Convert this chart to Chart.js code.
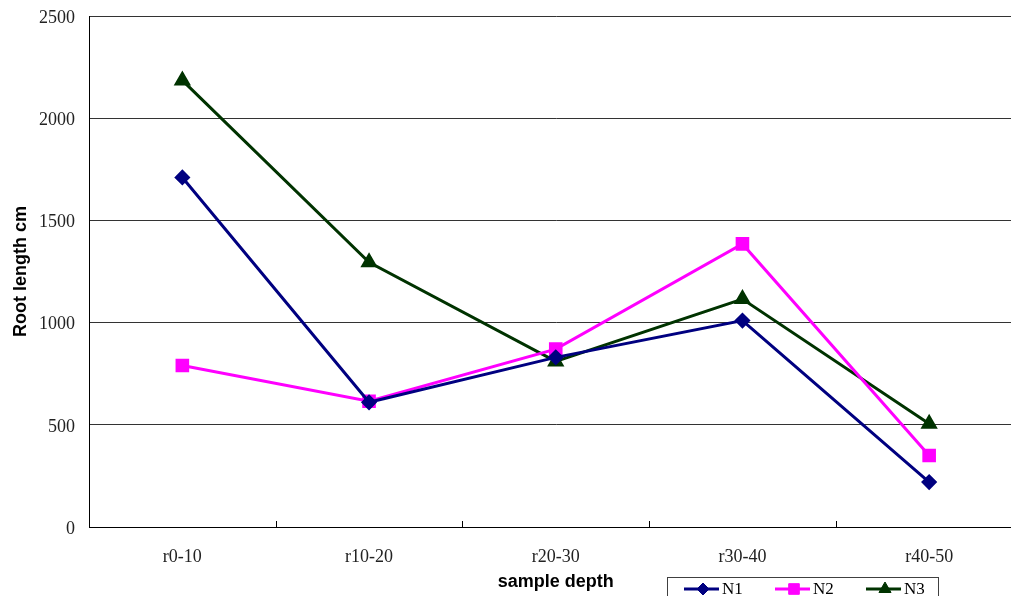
<!DOCTYPE html>
<html>
<head>
<meta charset="utf-8">
<script src="https://cdn.jsdelivr.net/npm/chart.js@4/dist/chart.umd.min.js"></script>
<style>
html, body { margin: 0; padding: 0; overflow: hidden; background: #fff; }
#wrap { width: 1033px; height: 596px; }
</style>
</head>
<body>
<div id="wrap"><canvas id="chart" width="1033" height="596"></canvas></div>
<script>
const depths = ["r0-10", "r10-20", "r20-30", "r30-40", "r40-50"];
const n1 = [1710, 610, 830, 1010, 220];
const n2 = [790, 615, 870, 1385, 350];
const n3 = [2185, 1295, 810, 1115, 505];
const yMax = 2500;
const yStep = 500;

const serif = "'Liberation Serif', 'DejaVu Serif', serif";
const sans = "'Liberation Sans', Arial, sans-serif";

// little upward ticks between the categories
const xTickMarks = {
    id: "xTickMarks",
    afterDraw(chart) {
        const xs = chart.scales.x;
        const b = chart.chartArea.bottom;
        const ctx = chart.ctx;
        ctx.save();
        ctx.strokeStyle = "#000";
        ctx.lineWidth = 1;
        for (let i = 1; i < depths.length; i++) {
            const px = Math.round((xs.getPixelForValue(i - 1) + xs.getPixelForValue(i)) / 2) + 0.5;
            ctx.beginPath();
            ctx.moveTo(px, b);
            ctx.lineTo(px, b - 6);
            ctx.stroke();
        }
        ctx.restore();
    }
};

// legend box under the x title, like the original
const legendBox = {
    id: "legendBox",
    afterDraw(chart) {
        const ctx = chart.ctx;
        ctx.save();
        ctx.strokeStyle = "#404040";
        ctx.lineWidth = 1;
        ctx.strokeRect(667.5, 577.5, 271, 40);
        const y = 589;
        const starts = [684, 775, 866];
        chart.data.datasets.forEach((ds, i) => {
            const x = starts[i];
            ctx.strokeStyle = ds.borderColor;
            ctx.lineWidth = 3;
            ctx.beginPath();
            ctx.moveTo(x, y);
            ctx.lineTo(x + 35, y);
            ctx.stroke();
            ctx.fillStyle = ds.pointBackgroundColor;
            ctx.lineWidth = 1;
            Chart.helpers.drawPoint(ctx, {
                pointStyle: ds.pointStyle,
                radius: ds.pointRadius,
                rotation: 0,
                borderWidth: 1
            }, x + 19, y);
            ctx.fillStyle = "#000";
            ctx.font = "17px " + serif;
            ctx.textBaseline = "middle";
            ctx.textAlign = "left";
            ctx.fillText(ds.label, x + 38, y + 1);
        });
        ctx.restore();
    }
};

const ctx = document.getElementById("chart").getContext("2d");

const chart = new Chart(ctx, {
    type: "line",
    data: {
        labels: depths,
        datasets: [
            {
                label: "N1",
                data: n1,
                borderColor: "#000080",
                backgroundColor: "#000080",
                pointBackgroundColor: "#000080",
                pointBorderColor: "#000080",
                pointStyle: "rectRot",
                pointRadius: 6,
                borderWidth: 3,
                tension: 0
            },
            {
                label: "N2",
                data: n2,
                borderColor: "#FF00FF",
                backgroundColor: "#FF00FF",
                pointBackgroundColor: "#FF00FF",
                pointBorderColor: "#FF00FF",
                pointStyle: "rect",
                pointRadius: 7.5,
                borderWidth: 3,
                tension: 0
            },
            {
                label: "N3",
                data: n3,
                borderColor: "#003300",
                backgroundColor: "#003300",
                pointBackgroundColor: "#003300",
                pointBorderColor: "#003300",
                pointStyle: "triangle",
                pointRadius: 7,
                borderWidth: 3,
                tension: 0
            }
        ]
    },
    options: {
        responsive: false,
        animation: false,
        layout: {
            padding: { top: 16, left: 0, right: 0, bottom: 0 }
        },
        plugins: {
            legend: { display: false },
            tooltip: { enabled: false }
        },
        scales: {
            x: {
                offset: true,
                grid: { display: false, drawTicks: false },
                border: { display: true, color: "#000", width: 1 },
                ticks: {
                    padding: 19,
                    color: "#222",
                    font: { family: serif, size: 18 }
                },
                title: {
                    display: true,
                    text: "sample depth",
                    color: "#000",
                    padding: { top: 0, bottom: 3 },
                    font: { family: sans, size: 18, weight: "bold" }
                },
                afterFit(scale) {
                    scale.height = 69;
                    scale.paddingLeft = 0;
                    scale.paddingRight = 0;
                }
            },
            y: {
                min: 0,
                max: yMax,
                grid: { color: "#333", lineWidth: 1, drawTicks: false },
                border: { display: true, color: "#000", width: 1 },
                ticks: {
                    stepSize: yStep,
                    padding: 14,
                    labelOffset: 2,
                    color: "#222",
                    font: { family: serif, size: 18 },
                    callback: v => String(v)
                },
                title: {
                    display: true,
                    text: "Root length cm",
                    color: "#000",
                    padding: { top: 10, bottom: 0 },
                    font: { family: sans, size: 18, weight: "bold" }
                },
                afterFit(scale) {
                    scale.width = 89;
                    scale.paddingTop = 0;
                    scale.paddingBottom = 0;
                }
            }
        }
    },
    plugins: [xTickMarks, legendBox]
});
</script>
</body>
</html>
